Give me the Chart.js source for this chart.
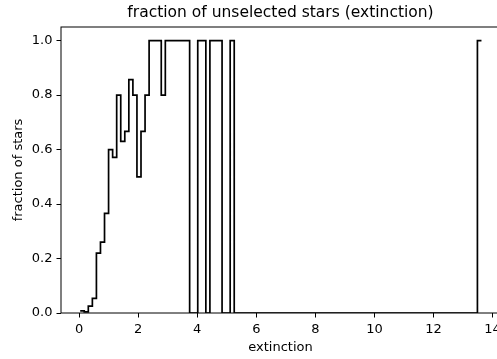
<!DOCTYPE html>
<html>
<head>
<meta charset="utf-8">
<script src="https://cdn.jsdelivr.net/npm/chart.js@4.4.1/dist/chart.umd.min.js"></script>
<style>
  html, body { margin: 0; padding: 0; background: #fff; overflow: hidden; }
  #wrap { width: 510px; height: 359px; }
</style>
</head>
<body>
<div id="wrap"><canvas id="myChart" width="510" height="359"></canvas></div>
<script>
// histogram bins (extinction units)
const binStart = 0.04
const binWidth = 0.1372

// fraction of unselected stars per bin
const fraction = [
  0.008, 0.004, 0.025, 0.054, 0.22, 0.26, 0.366, 0.60, 0.571, 0.80,
  0.63, 0.667, 0.857, 0.80, 0.50, 0.667, 0.80, 1, 1, 1,
  0.80, 1, 1, 1, 1, 1, 1, 0, 0, 1,
  1, 0, 1, 1, 1, 0, 0, 1,
  0, 0, 0, 0, 0, 0, 0, 0, 0, 0, 0, 0, 0, 0, 0, 0, 0, 0, 0, 0,
  0, 0, 0, 0, 0, 0, 0, 0, 0, 0, 0, 0, 0, 0, 0, 0, 0, 0, 0, 0,
  0, 0, 0, 0, 0, 0, 0, 0, 0, 0, 0, 0, 0, 0, 0, 0, 0, 0, 0, 0,
  1
]

const xTicks = [0, 2, 4, 6, 8, 10, 12, 14]
const yTicks = [0, 0.2, 0.4, 0.6, 0.8, 1.0]

// step outline, each bin value runs up to the right edge of its bin
let points = [{x: binStart, y: fraction[0]}]
for (let i = 0; i < fraction.length; i++) {
  points.push({x: binStart + (i + 1) * binWidth, y: fraction[i]})
}

const font = {family: 'DejaVu Sans', size: 13}

// box around the plot area (all four spines)
const frame = {
  id: 'frame',
  afterDatasetsDraw(chart) {
    const {ctx, chartArea: a} = chart
    ctx.save()
    ctx.strokeStyle = '#000'
    ctx.lineWidth = 1
    ctx.strokeRect(a.left, a.top, a.right - a.left, a.bottom - a.top)
    ctx.restore()
  }
}

const ctx = document.getElementById('myChart').getContext('2d')
const myChart = new Chart(ctx, {
  type: 'line',
  data: {
    datasets: [{
      data: points,
      borderColor: '#000',
      borderWidth: 1.7,
      stepped: 'after',
      pointRadius: 0,
      fill: false,
      tension: 0
    }]
  },
  options: {
    responsive: false,
    animation: false,
    devicePixelRatio: 1,
    layout: { padding: { left: 0, right: 10, top: 0, bottom: 0 } },
    plugins: {
      legend: { display: false },
      tooltip: { enabled: false },
      title: {
        display: true,
        fullSize: false,
        text: 'fraction of unselected stars (extinction)',
        color: '#000',
        font: {family: 'DejaVu Sans', size: 15.5, weight: 'normal'},
        padding: { top: 4, bottom: 4.4 }
      }
    },
    scales: {
      x: {
        type: 'linear',
        min: -0.61,
        max: 14.25,
        afterBuildTicks: s => { s.ticks = xTicks.map(v => ({value: v})) },
        afterFit: s => { s.height = 46 },
        grid: { drawOnChartArea: false, drawTicks: true, tickLength: 4.5, tickWidth: 1, tickColor: '#000' },
        border: { display: false },
        ticks: { color: '#000', font: font, padding: 4, maxRotation: 0, autoSkip: false, callback: v => String(v) },
        title: { display: true, text: 'extinction', color: '#000', font: font, padding: { top: 0, bottom: 4 } }
      },
      y: {
        min: 0,
        max: 1.05,
        afterBuildTicks: s => { s.ticks = yTicks.map(v => ({value: v})) },
        afterFit: s => { s.width = 61 },
        grid: { drawOnChartArea: false, drawTicks: true, tickLength: 4.5, tickWidth: 1, tickColor: '#000' },
        border: { display: false },
        ticks: { color: '#000', font: font, padding: 4, callback: v => v.toFixed(1) },
        title: { display: true, text: 'fraction of stars', color: '#000', font: font, padding: { top: 11, bottom: 0 } }
      }
    }
  },
  plugins: [frame]
})
</script>
</body>
</html>
